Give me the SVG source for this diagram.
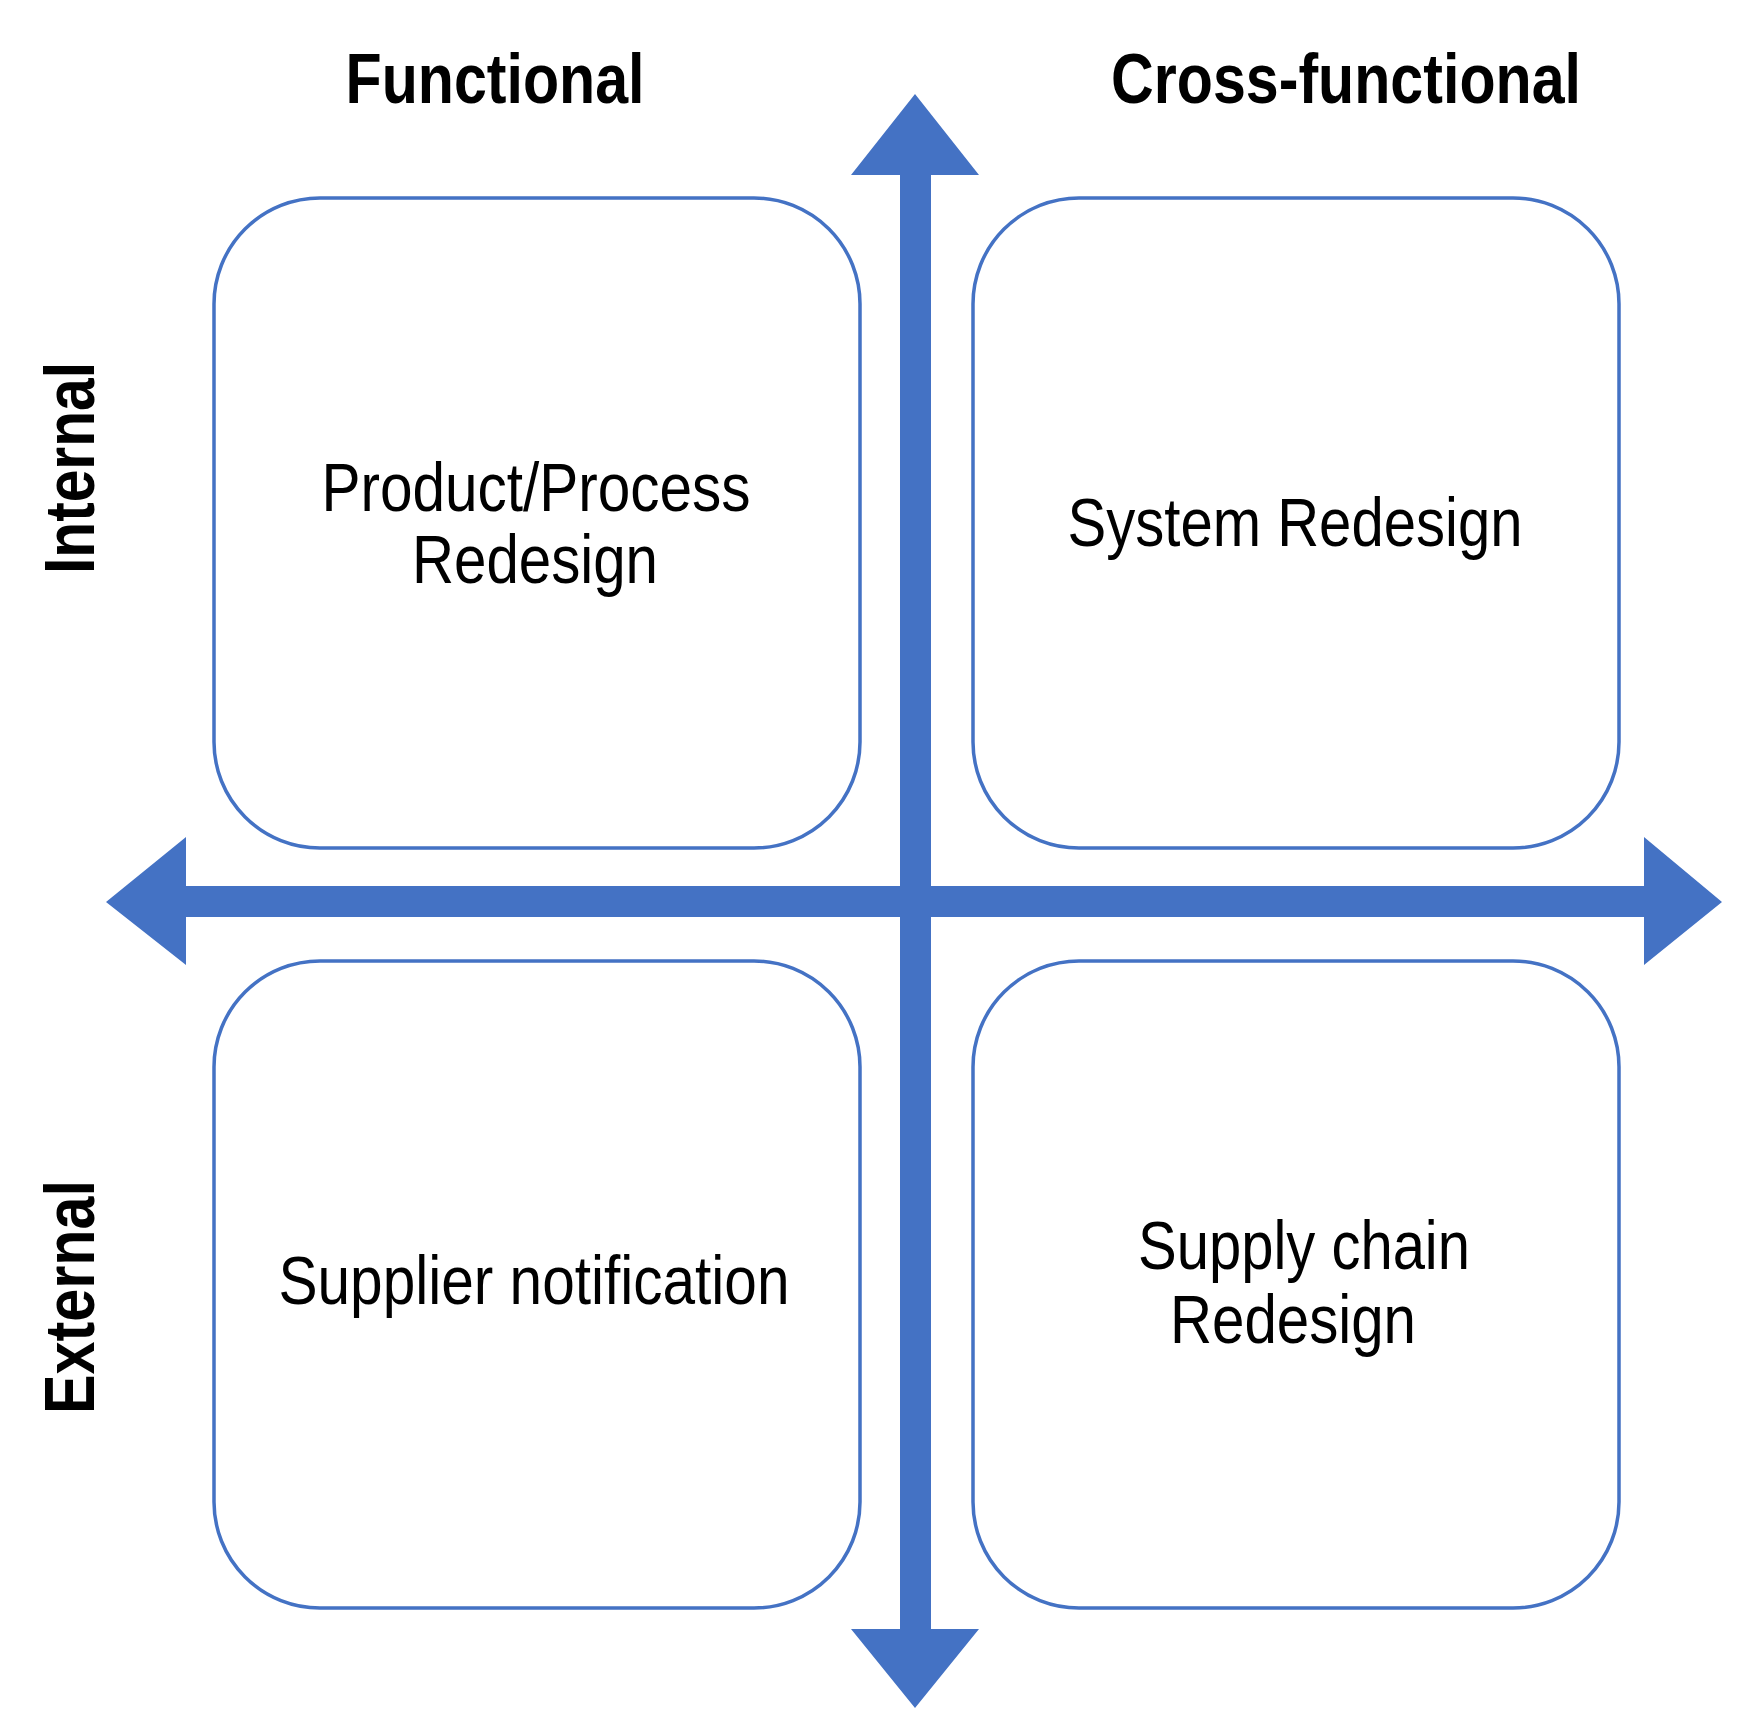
<svg xmlns="http://www.w3.org/2000/svg" width="1748" height="1728" viewBox="0 0 1748 1728">
<style>
.box{fill:#fff;stroke:#4472C4;stroke-width:3.5}
.t{font-family:"Liberation Sans",Arial,sans-serif;font-size:68px;fill:#000;text-anchor:middle}
.h{font-family:"Liberation Sans",Arial,sans-serif;font-size:70px;font-weight:bold;fill:#000;text-anchor:middle}
</style>
<rect width="1748" height="1728" fill="#fff"/>
<g id="connectors" fill="#4472C4">
<polygon points="900,175 851,175 915,94 979,175 931,175 931,1629 979,1629 915,1708 851,1629 900,1629"/>
<polygon points="186,886 186,837 106,902 186,965 186,917 1644,917 1644,965 1722,902 1644,837 1644,886"/>
</g>
<g id="n1"><rect class="box" x="214" y="198" width="646" height="650" rx="106"/>
<text class="t" x="536" y="511" textLength="429" lengthAdjust="spacingAndGlyphs">Product/Process</text>
<text class="t" x="535" y="583" textLength="246" lengthAdjust="spacingAndGlyphs">Redesign</text></g>
<g id="n2"><rect class="box" x="973" y="198" width="646" height="650" rx="106"/>
<text class="t" x="1295" y="546" textLength="455" lengthAdjust="spacingAndGlyphs">System Redesign</text></g>
<g id="n3"><rect class="box" x="214" y="961" width="646" height="647" rx="106"/>
<text class="t" x="534" y="1304" textLength="511" lengthAdjust="spacingAndGlyphs">Supplier notification</text></g>
<g id="n4"><rect class="box" x="973" y="961" width="646" height="647" rx="106"/>
<text class="t" x="1304" y="1269" textLength="332" lengthAdjust="spacingAndGlyphs">Supply chain</text>
<text class="t" x="1293" y="1343" textLength="246" lengthAdjust="spacingAndGlyphs">Redesign</text></g>
<g id="labels">
<text class="h" x="495" y="103" textLength="299" lengthAdjust="spacingAndGlyphs">Functional</text>
<text class="h" x="1346" y="103" textLength="470" lengthAdjust="spacingAndGlyphs">Cross-functional</text>
<text class="h" transform="translate(94,468) rotate(-90)" x="0" y="0" textLength="212" lengthAdjust="spacingAndGlyphs">Internal</text>
<text class="h" transform="translate(94,1297) rotate(-90)" x="0" y="0" textLength="234" lengthAdjust="spacingAndGlyphs">External</text>
</g>
</svg>
